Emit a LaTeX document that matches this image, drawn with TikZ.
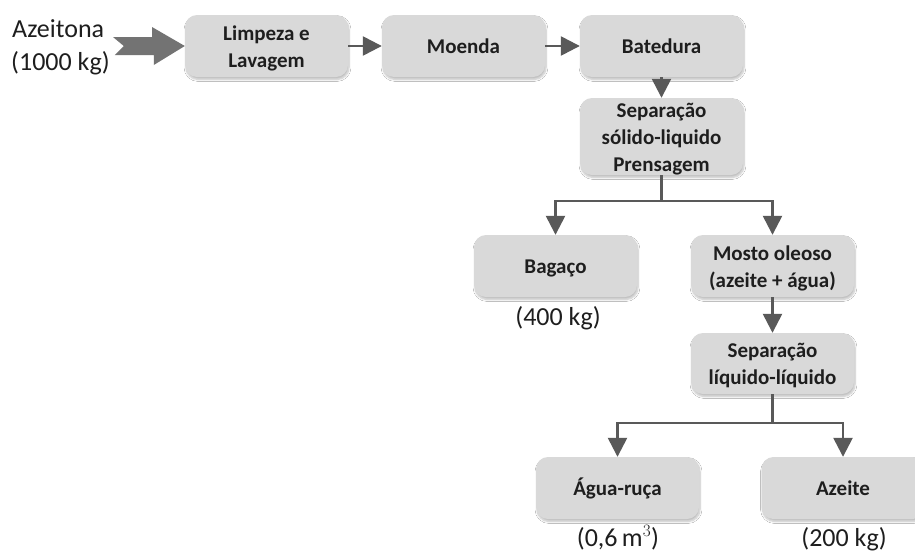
\documentclass[tikz,border=0pt]{standalone}
\usepackage{fontspec}
\setmainfont{Carlito}
\usetikzlibrary{arrows.meta,shadows.blur}
\definecolor{boxfill}{HTML}{D9D9D9}
\definecolor{linecol}{HTML}{595959}
\definecolor{bigarrow}{HTML}{737373}
\definecolor{txt}{HTML}{1E1E1E}
\begin{document}
\begin{tikzpicture}[x=1pt,y=-1pt,
  proc/.style={rectangle, rounded corners=12pt, fill=boxfill, minimum width=163pt,
    minimum height=62pt, align=center, font=\fontsize{21}{27}\selectfont\bfseries,
    text=txt, inner sep=0pt, text height=16pt, text depth=2pt,
    blur shadow={shadow xshift=1pt, shadow yshift=-2.5pt, shadow blur steps=6, shadow opacity=25}},
  twoline/.style={text height=46pt, text depth=4pt},
  threeline/.style={text height=73pt, text depth=4pt},
  lbl/.style={font=\fontsize{26}{33}\selectfont, text=txt, inner sep=0pt},
  conn/.style={draw=linecol, line width=2.5pt, line join=miter, -{Triangle[length=19pt,width=19pt]}},
  bigarr/.style={fill=bigarrow, draw=none}
  ]
\useasboundingbox (0,0) rectangle (915,552);
\clip (0,0) rectangle (915,552);
\fill[white] (0,0) rectangle (915,552);

% process boxes
\node[proc, twoline] (limp) at (266.5,46) {Limpeza e\\Lavagem};
\node[proc] (moe) at (463.5,46) {Moenda};
\node[proc] (bat) at (661.5,46) {Batedura};
\node[proc, threeline, minimum height=77pt] (sep1) at (661.5,136.5) {Separação\\sólido-liquido\\Prensagem};
\node[proc] (bag) at (555.5,266) {Bagaço};
\node[proc, twoline] (mos) at (772.5,266) {Mosto oleoso\\(azeite + água)};
\node[proc, twoline, minimum height=61pt] (sep2) at (772.5,363.5) {Separação\\líquido-líquido};
\node[proc] (agua) at (617.5,488) {Água-ruça};
\node[proc] (azt) at (843,488) {Azeite};

% labels
\node[lbl, anchor=base west] (az1) at (12,37) {Azeitona};
\node[lbl, anchor=base west] (az2) at (11,70) {(1000 kg)};
\node[lbl, anchor=base] (l400) at (558,325) {(400 kg)};
\node[lbl, anchor=base] (l06) at (618,546) {(0,6\,$\mathrm{m}^3$)};
\node[lbl, anchor=base] (l200) at (844,546) {(200 kg)};

% big input arrow
\coordinate (bt) at (113,46);
\fill[bigarr] (bt) ++(0,-9) -- ++(39,0) -- ++(0,-10) -- (limp.west) -- ++(-31,19)
  -- ++(0,-10) -- ++(-39,0) -- ++(9,-9) -- cycle;

% connectors
\draw[conn] (limp) -- (moe);
\draw[conn] (moe) -- (bat);
\draw[conn] (bat) -- (sep1);
\draw[conn] (sep1.south) -- ++(0,26) -| (bag.north);
\draw[conn] (sep1.south) -- ++(0,26) -| (mos.north);
\draw[conn] (mos) -- (sep2);
\draw[conn] (sep2.south) -- ++(0,29) -| (agua.north);
\draw[conn] (sep2.south) -- ++(0,29) -| (azt.north);
\end{tikzpicture}
\end{document}
